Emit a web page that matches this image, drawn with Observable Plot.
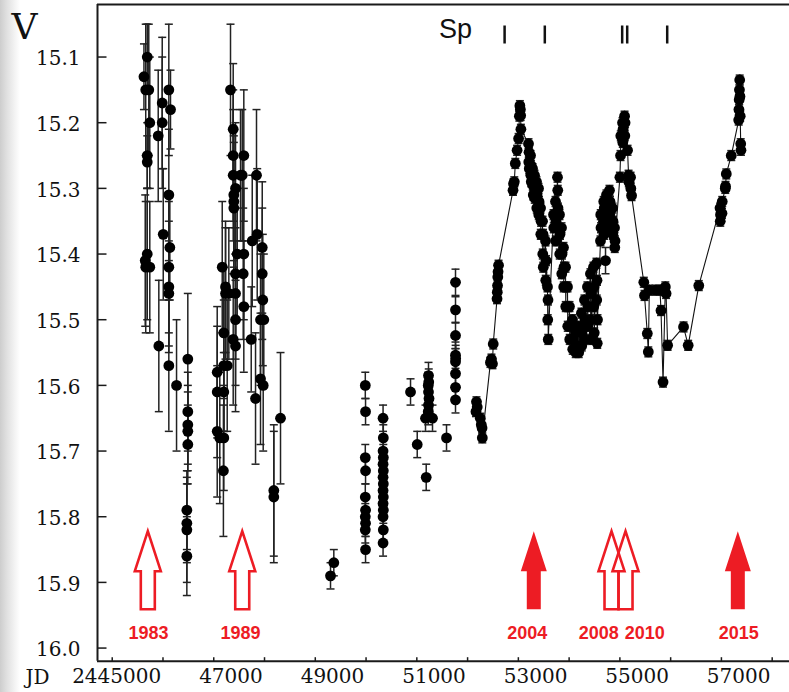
<!DOCTYPE html>
<html><head><meta charset="utf-8">
<script src="https://cdn.jsdelivr.net/npm/d3@7"></script>
<script src="https://cdn.jsdelivr.net/npm/@observablehq/plot@0.6"></script>
<style>
html,body{margin:0;padding:0;}
body{width:789px;height:692px;overflow:hidden;background:linear-gradient(to right,#cdcdcd 0px,#dedede 6px,#efefef 13px,#fff 20px);}
</style></head><body><div id="chart"></div>
<script>
// ---- data (JD - 2400000, V magnitude, error) ----
// 1983-1990 photographic data, large errors
const early = [
[45690,15.10,0.05],[45625,15.13,0.05],[45660,15.15,0.1],[45720,15.15,0.1],[45740,15.20,0.1],[45690,15.25,0.05],[45690,15.26,0.04],[45690,15.40,0.1],[45650,15.41,0.1],[45660,15.42,0.1],[45740,15.42,0.1],
[45906,15.22,0.1],[45985,15.17,0.1],[45985,15.20,0.1],[46005,15.37,0.1],[45918,15.54,0.1],
[46115,15.15,0.1],[46148,15.18,0.06],[46115,15.31,0.1],[46135,15.39,0.08],[46115,15.42,0.1],[46115,15.45,0.1],[46115,15.46,0.08],[46115,15.57,0.1],
[46267,15.60,0.1],
[46489,15.56,0.1],[46489,15.64,0.06],[46489,15.66,0.06],[46489,15.67,0.06],[46489,15.69,0.06],[46470,15.79,0.06],[46470,15.81,0.06],[46470,15.82,0.08],[46470,15.86,0.06],
[47068,15.58,0.1],[47068,15.61,0.1],[47068,15.67,0.1],[47119,15.68,0.1],[47198,15.68,0.08],[47198,15.61,0.06],[47198,15.57,0.1],[47198,15.52,0.1],[47167,15.42,0.1],[47232,15.45,0.1],[47232,15.46,0.1],[47265,15.57,0.1],[47190,15.73,0.1],
[47330,15.15,0.1],[47383,15.21,0.1],[47383,15.25,0.1],[47383,15.28,0.1],[47527,15.28,0.1],[47395,15.31,0.1],[47395,15.32,0.1],[47395,15.33,0.1],[47429,15.30,0.1],[47592,15.25,0.1],[47561,15.28,0.1],[47462,15.40,0.1],[47592,15.40,0.1],[47429,15.43,0.1],[47580,15.43,0.1],[47429,15.46,0.1],[47592,15.48,0.1],[47429,15.50,0.1],[47383,15.53,0.1],[47429,15.54,0.1],[47297,15.46,0.1],
[47758,15.38,0.1],[47842,15.28,0.1],[47856,15.37,0.1],[47955,15.39,0.1],[47955,15.43,0.1],[47966,15.47,0.1],[47921,15.50,0.1],[47986,15.50,0.1],[47738,15.53,0.08],[47921,15.59,0.1],[47974,15.60,0.1],[47823,15.62,0.1],
[48315,15.65,0.1],[48183,15.76,0.1],[48183,15.77,0.1]
];
// 1993-2001 CCD data, unconnected
const mid = [
[49300,15.89,0.02],[49365,15.87,0.02],
[49985,15.60,0.02],[49990,15.64,0.02],[49985,15.71,0.02],[49990,15.73,0.02],[49985,15.77,0.02],[49990,15.79,0.02],[49985,15.80,0.02],[49990,15.81,0.02],[49985,15.82,0.02],[49990,15.85,0.02],
[50335,15.65,0.02],[50340,15.68,0.02],[50335,15.70,0.02],[50340,15.71,0.02],[50335,15.72,0.02],[50340,15.73,0.02],[50335,15.74,0.02],[50340,15.75,0.02],[50335,15.76,0.02],[50340,15.77,0.02],[50335,15.78,0.02],[50340,15.79,0.02],[50335,15.80,0.02],[50340,15.82,0.02],[50335,15.84,0.02],
[50876,15.61,0.02],[51008,15.69,0.02],
[51230,15.585,0.02],[51235,15.595,0.02],[51225,15.60,0.02],[51230,15.61,0.02],[51240,15.62,0.02],[51230,15.63,0.02],[51225,15.64,0.02],[51171,15.65,0.02],[51309,15.65,0.02],[51185,15.74,0.02],
[51585,15.68,0.02],
[51762,15.443,0.02],[51762,15.485,0.02],[51762,15.524,0.02],[51762,15.554,0.02],[51765,15.559,0.02],[51762,15.564,0.02],[51762,15.582,0.02],[51762,15.603,0.02],[51762,15.622,0.02],
[54717,15.41,0.02]
];
// 2001-2016 data, connected by a line
const late = [
[52165,15.640],[52175,15.625],[52190,15.633],[52250,15.650],[52270,15.660],[52285,15.665],[52290,15.680],
[52450,15.565],[52470,15.560],[52490,15.567],[52505,15.537],
[52580,15.468],[52585,15.458],[52590,15.448],[52595,15.435],[52600,15.427],[52610,15.417],
[52895,15.303],[52905,15.293],[52920,15.290],[52940,15.262],[52975,15.242],[53005,15.224],[53020,15.190],[53030,15.174],[53040,15.180],[53045,15.189],[53050,15.210],
[53200,15.232],[53205,15.260],[53210,15.245],[53215,15.270],
[53240,15.250],[53245,15.280],[53250,15.265],[53255,15.290],
[53279,15.270],[53284,15.295],[53289,15.280],[53294,15.310],
[53318,15.280],[53323,15.315],[53328,15.300],
[53358,15.290],[53363,15.330],[53368,15.310],
[53397,15.300],[53402,15.340],[53407,15.320],
[53437,15.330],[53442,15.370],[53447,15.350],
[53476,15.350],[53481,15.400],[53486,15.370],[53491,15.420],
[53535,15.380],[53540,15.440],[53545,15.410],
[53574,15.450],[53579,15.500],[53584,15.470],[53589,15.530],
[53693,15.340],[53698,15.360],
[53732,15.320],[53737,15.380],[53742,15.350],
[53771,15.283],[53776,15.303],[53781,15.330],
[53810,15.340],[53815,15.400],[53820,15.370],
[53850,15.360],[53855,15.430],[53860,15.400],
[53889,15.390],[53894,15.450],[53899,15.420],
[53929,15.420],[53934,15.480],[53939,15.450],
[53968,15.450],[53973,15.510],[53978,15.480],
[54007,15.480],[54012,15.530],[54017,15.510],
[54066,15.500],[54071,15.545],[54076,15.530],
[54125,15.520],[54130,15.550],[54135,15.545],
[54184,15.510],[54189,15.550],[54194,15.540],
[54243,15.490],[54248,15.540],[54253,15.520],
[54302,15.470],[54307,15.530],[54312,15.500],
[54361,15.450],[54366,15.510],[54371,15.480],
[54420,15.430],[54425,15.500],[54430,15.460],[54435,15.530],
[54480,15.420],[54485,15.480],[54490,15.450],[54495,15.520],
[54539,15.414],[54544,15.470],[54549,15.440],[54554,15.536],[54559,15.500],
[54618,15.380],[54623,15.340],[54628,15.360],
[54677,15.350],[54682,15.320],[54687,15.370],[54692,15.330],
[54736,15.310],[54741,15.350],[54746,15.330],
[54795,15.303],[54800,15.340],[54805,15.320],[54810,15.360],
[54854,15.330],[54859,15.370],[54864,15.350],
[54894,15.360],[54899,15.390],[54904,15.380],
[55000,15.283],[55013,15.250],[55018,15.220],
[55052,15.200],[55057,15.230],[55062,15.210],
[55092,15.190],[55097,15.220],[55102,15.200],
[55151,15.242],[55171,15.280],[55176,15.290],[55210,15.283],[55215,15.300],[55230,15.311],
[55471,15.443],[55485,15.463],[55540,15.521],[55560,15.549],[55580,15.455],[55700,15.455],[55790,15.455],[55810,15.486],[55850,15.595],[55895,15.450],[55910,15.460],[55940,15.539],
[56254,15.511],[56345,15.539],[56554,15.448],
[56972,15.330],[56977,15.350],[56982,15.340],[57011,15.338],[57016,15.320],[57076,15.300],[57081,15.297],[57096,15.278],[57194,15.250],
[57340,15.196],[57345,15.180],[57350,15.165],[57355,15.150],[57360,15.135],[57365,15.160],[57370,15.190],[57380,15.232],[57385,15.242]
];
const lateErr = 0.0075;

// spectra dates
const spectraJD = [52729, 53521, 55045, 55144, 55932];
// outburst arrows
const arrowYears = ["1983", "1989", "2004", "2008", "2010", "2015"];
const arrowJD = [45701, 47561, 53304, 54835, 55111, 57323];
const arrowFilled = [false, false, true, false, false, true];
const arrowLabelJD = [45715, 47528, 53174, 54585, 55491, 57343];
// axes
const yTicks = [15.1, 15.2, 15.3, 15.4, 15.5, 15.6, 15.7, 15.8, 15.9, 16.0];
const xTicks = [45000,46000,47000,48000,49000,50000,51000,52000,53000,54000,55000,56000,57000,58000];
const xLabels = [45000, 47000, 49000, 51000, 53000, 55000, 57000];
const xLabelText = ["2445000", "47000", "49000", "51000", "53000", "55000", "57000"];

// ---- build ----
const errPts = early.concat(mid).map(d => ({jd: d[0], v: d[1], e: d[2]}))
  .concat(late.map(d => ({jd: d[0], v: d[1], e: lateErr})));
const allPts = errPts;
const latePts = late.map(d => ({jd: d[0], v: d[1]}));
const arrows = arrowYears.map((y, i) => ({year: y, jd: arrowJD[i], filled: arrowFilled[i], ljd: arrowLabelJD[i]}));

const RED = "#ed1c24";
const capSym = {draw(c) { c.moveTo(-4, 0); c.lineTo(4, 0); }};
const yTickSym = {draw(c) { c.moveTo(0, 0); c.lineTo(9, 0); }};
const xTickSym = {draw(c) { c.moveTo(0, 0); c.lineTo(0, -4); }};
const spSym = {draw(c) { c.moveTo(0, -9); c.lineTo(0, 9); }};
const arrowSym = {draw(c) {
  c.moveTo(0, -130); c.lineTo(13, -90); c.lineTo(7, -90); c.lineTo(7, -52);
  c.lineTo(-7, -52); c.lineTo(-7, -90); c.lineTo(-13, -90); c.closePath();
}};
const serif = "DejaVu Serif";
const sans = "Liberation Sans, Arial, sans-serif";

const chart = Plot.plot({
  width: 789, height: 692,
  marginTop: 4, marginBottom: 31.3, marginLeft: 97, marginRight: 0,
  x: {domain: [44710, 58341], axis: null},
  y: {domain: [16.02, 15.02], axis: null},
  style: {background: "transparent", overflow: "visible"},
  marks: [
    // frame
    Plot.ruleX([44710], {stroke: "#1a1a1a", strokeWidth: 2}),
    Plot.ruleY([15.02], {stroke: "#1a1a1a", strokeWidth: 2}),
    Plot.ruleY([16.02], {stroke: "#1a1a1a", strokeWidth: 2}),
    // ticks
    Plot.dot(yTicks, {y: d => d, frameAnchor: "left", symbol: yTickSym, fill: "none", stroke: "#1a1a1a", strokeWidth: 1.5}),
    Plot.dot(xTicks, {x: d => d, frameAnchor: "bottom", symbol: xTickSym, fill: "none", stroke: "#1a1a1a", strokeWidth: 1.5}),
    Plot.text(yTicks, {y: d => d, text: d => d.toFixed(1), frameAnchor: "left", textAnchor: "end", dx: -17, dy: 2, lineAnchor: "middle", fontSize: 20, fontFamily: serif, fill: "#111"}),
    Plot.text(xLabels, {x: d => d, text: (d, i) => xLabelText[i], frameAnchor: "bottom", textAnchor: "end", dx: 49, dy: 15.5, lineAnchor: "middle", fontSize: 20, fontFamily: serif, fill: "#111"}),
    Plot.text(["JD"], {text: d => d, frameAnchor: "bottom-left", textAnchor: "start", dx: -72, dy: 16.5, lineAnchor: "middle", fontSize: 20, fontFamily: serif, fill: "#111"}),
    Plot.text(["V"], {text: d => d, frameAnchor: "top-left", textAnchor: "start", dx: -86, dy: 23, lineAnchor: "middle", fontSize: 36, fontFamily: serif, fill: "#111"}),
    // spectra
    Plot.text(["Sp"], {x: () => spectraJD[0], text: d => d, frameAnchor: "top", dx: -49, dy: 25, lineAnchor: "middle", fontSize: 27, fontFamily: sans, fill: "#111"}),
    Plot.dot(spectraJD, {x: d => d, frameAnchor: "top", dy: 30, symbol: spSym, fill: "none", stroke: "#111", strokeWidth: 2.5}),
    // error bars
    Plot.ruleX(errPts, {x: "jd", y1: d => d.v - d.e, y2: d => d.v + d.e, stroke: "#222", strokeWidth: 1.5}),
    Plot.dot(errPts, {x: "jd", y: d => d.v - d.e, symbol: capSym, fill: "none", stroke: "#222", strokeWidth: 1.5}),
    Plot.dot(errPts, {x: "jd", y: d => d.v + d.e, symbol: capSym, fill: "none", stroke: "#222", strokeWidth: 1.5}),
    // connecting line for the modern data
    Plot.line(latePts, {x: "jd", y: "v", stroke: "#111", strokeWidth: 1.1}),
    // points
    Plot.dot(allPts, {x: "jd", y: "v", r: 5.4, fill: "#000", stroke: "none"}),
    // arrows
    Plot.dot(arrows.filter(d => d.filled), {x: "jd", frameAnchor: "bottom", symbol: arrowSym, fill: RED, stroke: "none"}),
    Plot.dot(arrows.filter(d => !d.filled), {x: "jd", frameAnchor: "bottom", symbol: arrowSym, fill: "none", stroke: RED, strokeWidth: 2.6}),
    Plot.text(arrows, {x: "ljd", text: "year", frameAnchor: "bottom", dy: -27.7, lineAnchor: "middle", fill: RED, fontWeight: "bold", fontSize: 18, fontFamily: sans})
  ]
});
document.getElementById("chart").appendChild(chart);
</script></body></html>
